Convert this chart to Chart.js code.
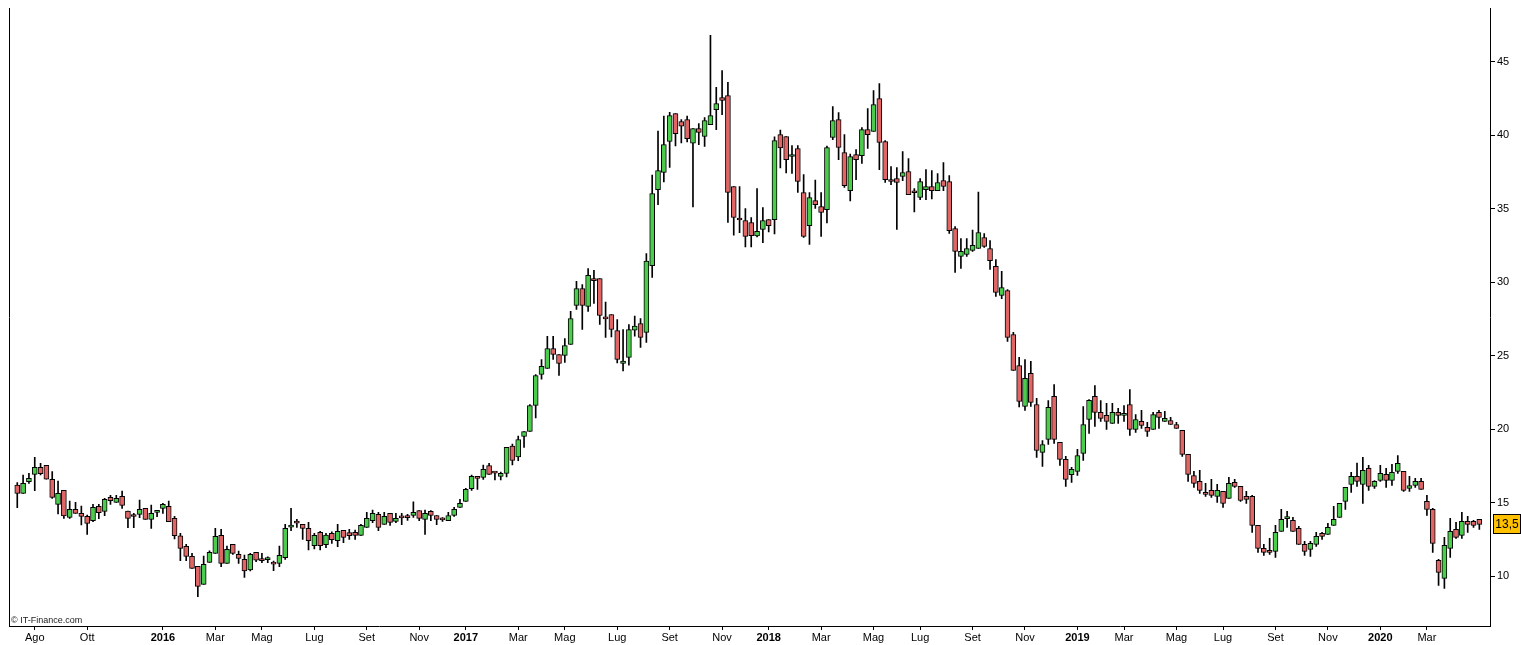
<!DOCTYPE html>
<html>
<head>
<meta charset="utf-8">
<script src="https://cdn.jsdelivr.net/npm/chart.js@4/dist/chart.umd.min.js"></script>
<style>
  html, body { margin: 0; padding: 0; background: #fff; }
  #wrap { position: relative; width: 1521px; height: 645px; }
</style>
</head>
<body>
<div id="wrap"><canvas id="chart"></canvas></div>
<script>
// weekly candles, first week starting Mon 13 Jul 2015
const startDate = '2015-07-13';

const open = [16.19,15.62,16.42,16.91,17.39,17.53,16.58,14.87,15.83,13.99,14.53,14.26,14.06,13.76,14.74,14.40,15.35,15.01,15.42,14.42,
  14.10,14.19,14.60,13.85,14.33,14.60,14.74,13.92,12.74,12.02,11.34,10.66,9.43,10.93,11.54,12.77,10.86,12.15,11.47,11.13,
  10.41,11.61,11.09,11.11,10.83,10.86,11.25,13.33,13.63,13.51,13.24,12.06,12.97,12.13,12.90,12.40,13.11,12.95,12.97,12.77,
  13.31,13.76,14.19,13.51,14.26,13.72,13.98,13.99,14.12,14.46,13.85,14.40,14.12,13.84,13.76,14.12,14.67,15.08,15.94,16.78,
  16.71,17.52,17.05,16.77,16.98,18.84,18.11,19.49,19.83,21.60,23.71,24.12,25.48,25.07,25.00,25.75,28.40,29.56,28.34,30.15,
  30.24,27.53,27.79,26.70,24.46,24.87,26.73,27.18,26.57,31.12,36.29,37.45,39.56,41.46,40.92,41.05,39.44,40.44,39.90,40.71,
  41.73,42.55,42.68,36.50,34.25,34.18,34.05,33.14,33.57,34.25,34.25,40.03,39.90,38.54,39.08,36.09,33.84,35.54,35.14,34.93,
  39.83,41.05,38.81,36.22,38.67,38.60,40.37,40.24,42.48,39.56,36.97,37.04,37.18,37.52,36.09,35.75,36.29,36.50,36.22,36.90,
  36.84,33.64,31.74,31.87,32.15,32.28,33.03,32.28,31.06,29.08,29.42,26.43,24.32,21.53,23.78,21.67,18.41,19.29,22.22,19.09,
  17.93,16.89,17.11,18.34,20.65,22.22,21.13,20.93,20.38,21.13,20.93,21.67,19.97,20.52,20.11,19.97,21.13,20.52,20.58,20.31,
  19.91,18.27,16.84,16.44,15.69,15.83,15.42,15.76,15.28,16.37,16.10,15.42,15.42,13.44,11.88,11.63,11.68,13.04,13.90,13.78,
  13.24,12.15,11.81,12.15,12.90,12.83,13.44,13.99,15.08,16.23,16.78,16.23,17.32,16.10,16.50,16.91,16.50,17.12,17.12,15.96,
  16.16,16.44,15.08,14.53,11.06,9.84,11.88,13.17,12.77,13.72,13.72,13.85];

const high = [16.35,16.87,16.98,18.07,17.66,17.53,17.10,16.46,15.83,15.10,15.01,14.76,14.15,14.87,14.87,15.28,15.49,15.49,15.78,14.42,
  14.26,15.17,14.60,14.83,14.46,14.94,15.10,14.06,12.90,12.15,11.54,10.66,11.36,11.72,13.24,13.17,12.04,12.15,11.70,11.43,
  11.54,11.61,11.54,11.31,11.02,12.04,13.51,14.60,13.85,13.51,13.65,12.90,13.04,12.90,13.01,13.51,13.11,13.17,13.13,13.51,
  14.33,14.49,14.33,14.33,14.26,14.26,14.26,14.19,15.05,14.46,14.49,14.46,14.12,13.97,14.33,14.67,15.21,15.96,16.87,16.78,
  17.55,17.66,17.07,17.07,18.75,18.97,19.52,19.83,21.67,23.71,24.73,26.30,26.30,25.07,26.16,28.00,30.04,29.83,30.92,30.79,
  30.24,28.63,27.79,27.45,26.77,27.11,27.68,27.52,31.94,37.27,40.26,41.28,41.55,41.46,41.05,41.28,40.44,40.78,41.19,46.79,
  43.25,44.39,43.59,36.50,36.50,35.00,34.39,36.36,35.07,34.25,39.87,40.33,39.90,39.29,39.29,37.31,36.09,36.93,36.09,39.24,
  41.94,41.53,40.03,38.70,39.01,40.51,41.80,43.02,43.50,39.62,37.86,37.79,38.88,38.40,36.36,37.04,37.65,37.58,37.38,38.13,
  37.24,33.77,32.96,32.96,33.53,36.11,33.30,32.82,31.53,30.72,29.49,26.57,24.87,24.73,24.60,22.08,19.22,21.94,23.03,19.09,
  18.14,17.39,18.61,21.53,22.01,22.96,21.94,21.74,21.74,21.40,21.60,22.69,20.99,21.27,20.45,21.13,21.27,21.20,20.79,20.45,
  19.91,18.27,17.12,17.19,16.30,16.57,16.23,15.76,16.71,16.57,16.10,15.76,15.49,13.44,12.15,12.56,13.44,14.53,14.40,13.99,
  13.38,12.36,12.36,12.97,12.97,13.58,14.74,14.94,16.03,17.05,17.68,18.07,17.53,16.50,17.53,17.32,17.59,18.20,17.12,16.78,
  16.64,16.64,15.49,14.60,11.13,12.63,13.92,13.65,14.33,14.06,13.78,13.85];

const low = [14.65,15.62,16.30,15.80,16.87,16.58,15.28,14.22,13.92,13.92,14.26,13.47,12.83,13.70,13.90,14.10,14.87,15.01,14.60,13.29,
  13.29,13.97,13.85,13.24,14.03,14.26,13.69,12.52,11.04,11.04,10.52,8.59,9.43,10.93,11.54,10.63,10.86,11.47,10.86,9.91,
  10.34,10.97,10.91,10.91,10.36,10.63,11.13,13.08,13.31,12.49,11.77,11.84,11.77,11.93,12.22,11.99,12.27,12.49,12.49,12.77,
  13.31,13.63,13.08,13.51,13.44,13.63,13.49,13.79,13.99,13.76,12.83,13.76,13.49,13.72,13.76,14.06,14.67,15.08,15.83,15.89,
  16.57,16.91,16.53,16.53,16.75,17.55,17.84,18.75,19.83,20.76,23.39,24.12,24.73,23.64,24.53,25.75,28.13,26.77,28.00,28.54,
  27.11,26.23,26.27,24.50,23.96,24.35,26.32,25.55,25.89,30.31,35.27,36.81,37.79,39.26,39.47,39.53,35.11,39.35,39.22,40.71,
  40.37,41.39,34.05,33.19,33.35,32.39,32.39,33.07,32.67,33.41,33.28,37.77,37.43,37.38,36.09,33.03,32.55,35.00,33.10,34.02,
  39.69,38.33,36.43,35.52,36.97,38.06,39.08,40.24,37.65,36.77,36.63,33.57,36.90,35.95,34.77,35.61,35.61,35.66,36.22,36.22,
  33.30,30.65,30.92,31.74,32.08,32.28,32.35,30.85,29.02,28.86,25.96,23.98,21.51,21.26,21.53,18.07,17.45,18.95,19.02,17.52,
  16.09,16.37,16.84,17.86,19.70,20.18,20.52,19.97,20.38,20.38,20.52,19.56,19.77,20.04,19.50,19.97,20.04,20.52,20.31,20.04,
  18.14,16.44,16.03,15.62,15.42,15.35,15.01,14.67,15.28,16.03,15.08,14.94,12.97,11.61,11.40,11.47,11.27,13.04,13.31,13.04,
  12.15,11.40,11.34,12.02,12.49,12.83,13.44,13.99,14.53,15.69,16.10,14.94,15.83,15.96,16.44,16.03,16.16,16.98,15.76,15.76,
  16.03,15.89,14.12,11.61,9.36,9.16,11.27,12.56,12.56,12.97,13.31,13.17];

const close = [15.62,16.30,16.64,17.39,16.96,16.58,15.35,15.62,14.08,14.53,14.26,14.06,13.58,14.67,14.31,15.21,15.12,15.28,14.81,13.92,
  14.05,14.53,13.85,14.26,14.46,14.87,13.69,12.74,11.88,11.34,10.52,9.30,10.79,11.61,12.70,10.86,11.81,11.54,11.20,10.34,
  11.47,11.07,11.05,11.22,10.81,11.40,13.24,13.47,13.60,13.24,12.40,12.76,12.06,12.79,12.47,13.04,12.63,12.74,12.77,13.45,
  13.92,14.26,13.31,14.06,13.65,13.92,13.96,13.97,14.33,13.92,14.26,14.12,13.85,13.82,14.12,14.53,14.94,15.89,16.78,16.64,
  17.25,16.92,17.00,16.98,18.75,17.86,19.29,19.83,21.60,23.64,24.26,25.48,25.07,24.46,25.68,27.52,29.56,28.40,30.45,30.10,
  27.72,27.49,26.77,24.73,24.62,26.77,27.00,26.23,31.42,36.02,37.58,39.35,41.32,40.10,40.60,39.76,40.44,40.17,40.98,41.32,
  42.14,42.35,36.09,34.39,34.22,33.10,33.16,33.44,34.18,33.84,39.62,39.13,38.33,38.67,36.84,33.10,35.74,35.27,34.73,39.15,
  40.99,39.15,36.56,38.54,38.33,40.37,40.03,42.07,39.49,36.97,36.84,36.77,37.45,35.95,36.07,36.84,36.50,36.22,36.77,36.50,
  33.50,32.08,32.08,32.28,32.49,33.37,32.42,31.46,29.29,29.63,26.23,23.98,21.87,23.44,21.81,18.54,18.95,21.47,19.29,17.93,
  16.57,17.25,18.20,20.31,21.95,21.13,20.72,20.52,21.13,20.93,21.06,19.97,20.65,20.24,19.84,20.99,20.79,20.72,20.31,20.04,
  18.27,16.91,16.30,15.83,15.55,15.49,15.83,14.94,16.30,16.10,15.14,15.21,13.44,11.88,11.61,11.61,12.97,13.85,13.92,13.04,
  12.15,11.68,12.22,12.70,12.70,13.31,13.85,14.94,16.03,16.78,16.44,17.19,16.10,16.44,16.98,16.50,17.05,17.66,15.83,16.16,
  16.44,15.89,14.53,12.22,10.25,12.08,13.04,12.63,13.72,13.51,13.44,13.51];

// axis labels (Italian), months that get a tick
const monthNames = ['Gen','Feb','Mar','Apr','Mag','Giu','Lug','Ago','Set','Ott','Nov','Dic'];
const tickMonths = ['2015-08','2015-10','2016-01','2016-03','2016-05','2016-07','2016-09','2016-11',
  '2017-01','2017-03','2017-05','2017-07','2017-09','2017-11','2018-01','2018-03','2018-05','2018-07','2018-09','2018-11',
  '2019-01','2019-03','2019-05','2019-07','2019-09','2019-11','2020-01','2020-03'];
const yTicks = [10, 15, 20, 25, 30, 35, 40, 45];

const UP = '#4ccc4c';
const DOWN = '#e06666';

// week start dates
const weekDates = close.map((_, i) => {
  const d = new Date(startDate + 'T00:00:00Z');
  d.setUTCDate(d.getUTCDate() + 7 * i);
  return d;
});

// index of the first week of each labelled month
const xTicks = tickMonths.map(m => {
  const [y, mo] = m.split('-').map(Number);
  const idx = weekDates.findIndex(d => d.getUTCFullYear() > y || (d.getUTCFullYear() === y && d.getUTCMonth() + 1 >= mo));
  return { value: idx, label: mo === 1 ? String(y) : monthNames[mo - 1], year: mo === 1 };
});
const tickInfo = v => xTicks.find(t => t.value === v) || {};

const wicks = close.map((c, i) => ({ x: i, y: [low[i], high[i]] }));
const bodies = close.map((c, i) => ({ x: i, y: [open[i], c] }));
const bodyColors = close.map((c, i) => c >= open[i] ? UP : DOWN);

const extras = {
  id: 'extras',
  afterDraw(chart) {
    const ctx = chart.ctx;
    const area = chart.chartArea;
    const y = chart.scales.y;
    // last price tag
    const last = close[close.length - 1];
    const py = Math.round(y.getPixelForValue(last));
    ctx.save();
    ctx.fillStyle = '#ffc000';
    ctx.strokeStyle = '#000';
    ctx.lineWidth = 1;
    ctx.fillRect(area.right + 3.5, py - 9.5, 27, 19);
    ctx.strokeRect(area.right + 3.5, py - 9.5, 27, 19);
    ctx.fillStyle = '#000';
    ctx.font = '12px "Liberation Sans", Arial, sans-serif';
    ctx.textAlign = 'center';
    ctx.textBaseline = 'middle';
    ctx.fillText(last.toFixed(1).replace('.', ','), area.right + 17, py + 0.5);
    // watermark
    ctx.font = '9px "Liberation Sans", Arial, sans-serif';
    ctx.textAlign = 'left';
    ctx.textBaseline = 'bottom';
    ctx.fillStyle = '#222';
    ctx.fillText('\u00a9 IT-Finance.com', area.left + 2, area.bottom - 1);
    ctx.restore();
  }
};

new Chart(document.getElementById('chart'), {
  type: 'bar',
  data: {
    datasets: [{
      label: 'body',
      data: bodies,
      backgroundColor: bodyColors,
      borderColor: '#000',
      borderWidth: 1,
      borderSkipped: false,
      barThickness: 5,
      minBarLength: 2,
      grouped: false,
      order: 0
    }, {
      label: 'wick',
      data: wicks,
      backgroundColor: '#000',
      borderWidth: 0,
      barThickness: 1,
      grouped: false,
      order: 1
    }]
  },
  options: {
    responsive: true,
    maintainAspectRatio: false,
    animation: false,
    layout: { padding: { top: 8, left: 0, right: 0, bottom: 0 } },
    plugins: { legend: { display: false }, tooltip: { enabled: false } },
    scales: {
      x: {
        type: 'linear',
        offset: false,
        min: -1.42,
        max: 252.83,
        grid: { offset: false, drawOnChartArea: false, drawTicks: true, tickLength: 4, color: '#000' },
        border: { display: true, color: '#000' },
        afterBuildTicks: scale => { scale.ticks = xTicks.map(t => ({ value: t.value })); },
        afterFit: scale => { scale.height = 19; },
        ticks: {
          autoSkip: false,
          maxRotation: 0,
          padding: 1,
          color: '#000',
          font: ctx => ({ family: '"Liberation Sans", Arial, sans-serif', size: 11,
            weight: ctx && ctx.tick && tickInfo(ctx.tick.value).year ? 'bold' : 'normal' }),
          callback: v => tickInfo(v).label || ''
        }
      },
      y: {
        position: 'right',
        min: 6.6,
        max: 48.6,
        grid: { drawOnChartArea: false, drawTicks: true, tickLength: 5, color: '#000' },
        border: { display: true, color: '#000' },
        afterBuildTicks: scale => { scale.ticks = yTicks.map(v => ({ value: v })); },
        afterFit: scale => { scale.width = 31; },
        ticks: {
          padding: 2,
          color: '#000',
          font: { family: '"Liberation Sans", Arial, sans-serif', size: 11 }
        }
      },
      yl: {
        position: 'left',
        min: 6.6,
        max: 48.6,
        grid: { display: false },
        border: { display: true, color: '#000' },
        ticks: { display: false },
        afterFit: scale => { scale.width = 9; }
      }
    }
  },
  plugins: [extras]
});
</script>
</body>
</html>
